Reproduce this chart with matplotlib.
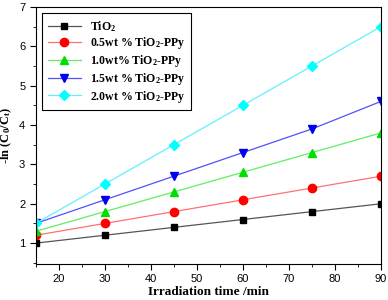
import numpy as np
import matplotlib.pyplot as plt
from matplotlib.ticker import MultipleLocator

time = [15, 30, 45, 60, 75, 90]
tio2 = [1.0, 1.2, 1.4, 1.6, 1.8, 2.0]
ppy05 = [1.2, 1.5, 1.8, 2.1, 2.4, 2.7]
ppy10 = [1.3, 1.8, 2.3, 2.8, 3.3, 3.8]
ppy15 = [1.5, 2.1, 2.7, 3.3, 3.9, 4.6]
ppy20 = [1.5, 2.5, 3.5, 4.5, 5.5, 6.5]

labels = ['TiO$_2$', '0.5wt % TiO$_2$-PPy', '1.0wt% TiO$_2$-PPy',
          '1.5wt % TiO$_2$-PPy', '2.0wt % TiO$_2$-PPy']

series = [tio2, ppy05, ppy10, ppy15, ppy20]
mcolors = ['black', 'red', '#00dd00', '#0000ee', '#00ffff']
lcolors = ['#555555', '#ff7070', '#60ee60', '#5050ff', '#60f0ff']
markers = ['s', 'o', '^', 'v', 'D']
msizes = [5, 6, 6, 6, 5]

plt.rcParams['mathtext.fontset'] = 'custom'
plt.rcParams['mathtext.rm'] = 'Liberation Serif:bold'
plt.rcParams['mathtext.it'] = 'Liberation Serif:bold'

fig = plt.figure(figsize=(3.88, 3.0), dpi=100)
ax = fig.add_axes([0.092, 0.12, 0.890, 0.857])

for y, lab, mc, lc, m, ms in zip(series, labels, mcolors, lcolors, markers, msizes):
    ax.plot(time, y, color=lc, lw=0.9, marker=m, ms=ms, mfc=mc, mec=mc, label=lab)

ax.set_xlim(15, 90)
ax.set_ylim(0.47, 7)
ax.xaxis.set_major_locator(MultipleLocator(10))
ax.xaxis.set_minor_locator(MultipleLocator(5))
ax.yaxis.set_major_locator(MultipleLocator(1))
ax.yaxis.set_minor_locator(MultipleLocator(0.5))
ax.set_xticks([20, 30, 40, 50, 60, 70, 80, 90])
ax.tick_params(which='both', direction='out', labelsize=8, top=False, right=False)
ax.tick_params(which='major', length=4)
ax.tick_params(which='minor', length=2)
for lbl in ax.get_xticklabels() + ax.get_yticklabels():
    lbl.set_fontfamily('Liberation Sans')

ax.set_xlabel('Irradiation time /min', family='Liberation Serif', weight='bold', fontsize=9.5)
ax.xaxis.set_label_coords(0.5, -0.085)
ax.set_ylabel('-ln (C$_0$/C$_t$)', family='Liberation Serif', weight='bold', fontsize=9)
ax.yaxis.set_label_coords(-0.062, 0.5)

leg = ax.legend(loc='upper left', prop={'family': 'Liberation Serif', 'weight': 'bold', 'size': 8.5},
                fancybox=False, edgecolor='black', framealpha=1, borderaxespad=0.5,
                handlelength=2.8, labelspacing=0.15, borderpad=0.5)
leg.get_frame().set_linewidth(0.8)

fig.savefig('out.png', dpi=100)
